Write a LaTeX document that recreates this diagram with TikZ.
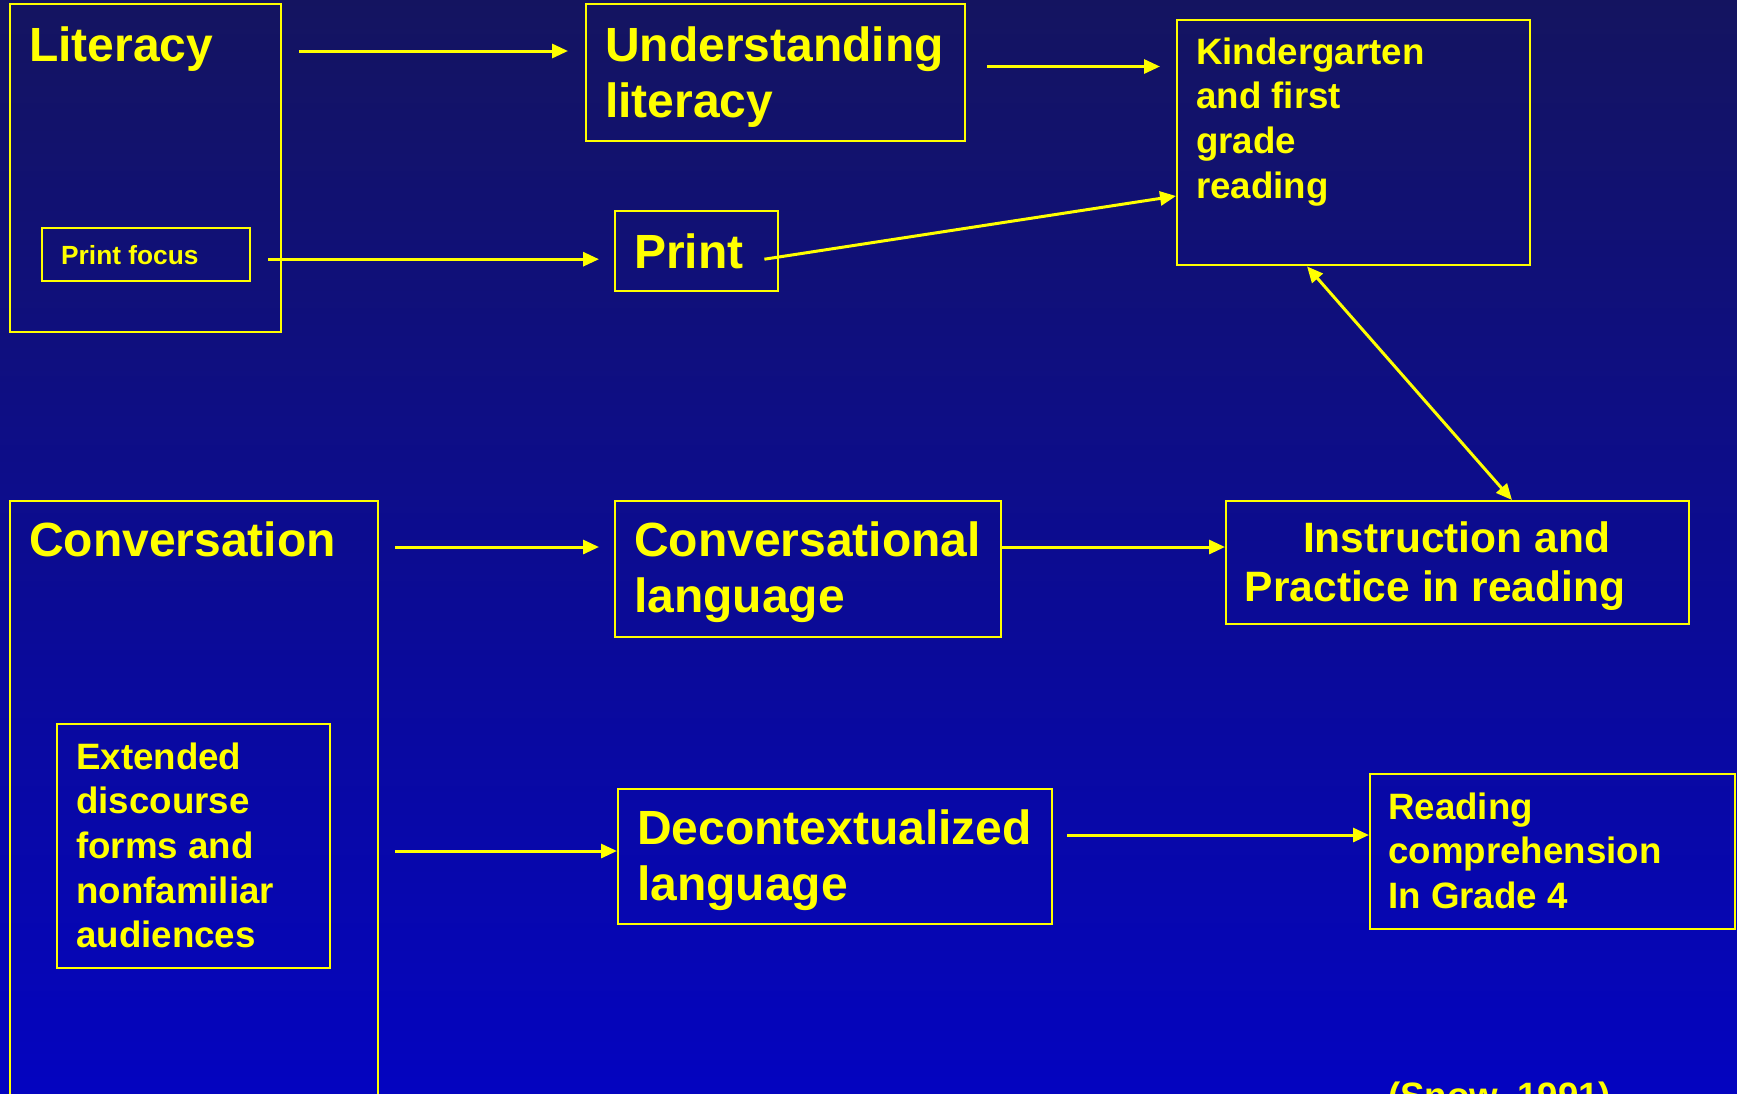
\documentclass[tikz,border=0pt]{standalone}
\usepackage{fontspec}
\setmainfont{Liberation Sans}
\usepackage{tikz}
\usetikzlibrary{arrows,arrows.meta,positioning}
\definecolor{hilite}{RGB}{255,255,0}
\definecolor{bgtop}{RGB}{20,20,96}
\definecolor{bgbottom}{RGB}{4,4,192}
\tikzstyle{frame} = [draw=hilite, line width=2.4pt, inner sep=0pt,
    anchor=north west]
\tikzstyle{bigtxt} = [text=hilite, inner sep=0pt, anchor=base west,
    align=left, font=\fontsize{48}{56}\selectfont\bfseries]
\tikzstyle{midtxt} = [text=hilite, inner sep=0pt, anchor=base west,
    align=left, font=\fontsize{36.7}{44.7}\selectfont\bfseries]
\tikzstyle{flow} = [draw=hilite, fill=hilite, line width=3pt,
    -{Triangle[length=16pt,width=14pt]}]

\begin{document}
\begin{tikzpicture}[x=1pt, y=-1pt]
  \useasboundingbox (0,0) rectangle (1737,1093);
  \clip (0,0) rectangle (1737,1093);
  \shade [top color=bgtop, bottom color=bgbottom] (0,0) rectangle (1737,1093);
  % Place nodes (text nodes sit on the baseline of their last line)
  \node [frame, minimum width=271pt, minimum height=328pt] (lit) at (9,3) {};
  \node [bigtxt] (littxt) at ([shift={(20,58)}]lit.north west) {Literacy};
  \node [frame, minimum width=208pt, minimum height=53pt] (pfoc) at (41,227) {};
  \node [text=hilite, inner sep=0pt, anchor=base west,
    font=\fontsize{26.3}{31}\selectfont\bfseries] (pfoctxt)
    at ([shift={(20,37)}]pfoc.north west) {Print focus};
  \node [frame, minimum width=379pt, minimum height=137pt] (und) at (585,3) {};
  \node [bigtxt] (undtxt) at ([shift={(20,114)}]und.north west)
    {Understanding\\literacy};
  \node [frame, minimum width=353pt, minimum height=245pt] (kin) at (1176,19) {};
  \node [midtxt] (kintxt) at ([shift={(20,179.1)}]kin.north west)
    {Kindergarten\\and first\\grade\\reading};
  \node [frame, minimum width=163pt, minimum height=80pt] (prt) at (614,210) {};
  \node [bigtxt] (prttxt) at ([shift={(20,58)}]prt.north west) {Print};
  \node [frame, minimum width=368pt, minimum height=620pt] (conv) at (9,500) {};
  \node [bigtxt] (convtxt) at ([shift={(20,56)}]conv.north west) {Conversation};
  \node [frame, minimum width=273pt, minimum height=244pt] (ext) at (56,723) {};
  \node [midtxt] (exttxt) at ([shift={(20,224.8)}]ext.north west)
    {Extended\\discourse\\forms and\\nonfamiliar\\audiences};
  \node [frame, minimum width=386pt, minimum height=136pt] (cl) at (614,500) {};
  \node [bigtxt] (cltxt) at ([shift={(20,112)}]cl.north west)
    {Conversational\\language};
  \node [frame, minimum width=463pt, minimum height=123pt] (ins) at (1225,500) {};
  \node [text=hilite, inner sep=0pt, anchor=base, align=center,
    font=\fontsize{42.5}{49.5}\selectfont\bfseries] (instxt)
    at ([shift={(231.5,101.5)}]ins.north west)
    {Instruction and\\Practice in reading\makebox[43pt]{}};
  \node [frame, minimum width=434pt, minimum height=135pt] (dec) at (617,788) {};
  \node [bigtxt] (dectxt) at ([shift={(20,112)}]dec.north west)
    {Decontextualized\\language};
  \node [frame, minimum width=365pt, minimum height=155pt] (rc) at (1369,773) {};
  \node [midtxt] (rctxt) at ([shift={(19,135.4)}]rc.north west)
    {Reading\\comprehension\\In Grade 4};
  \node [midtxt] (cite) at ([shift={(19,335)}]rc.north west) {(Snow, 1991)};
  % Connectors
  \draw [flow] ([shift={(17,48)}]lit.north east) -- ([shift={(-17,48)}]und.north west);
  \draw [flow] ([shift={(21,63.5)}]und.north east) -- ([shift={(-16,47.5)}]kin.north west);
  \draw [flow] ([shift={(17,4.5)}]pfoc.east) -- ([shift={(-15,8)}]prt.west);
  \draw [flow] ([shift={(-15,8)}]prt.east) -- ([shift={(0,177)}]kin.north west);
  \draw [flow, {Triangle[length=16pt,width=14pt]}-{Triangle[length=16pt,width=14pt]}]
    ([shift={(131,0)}]kin.south west) -- ([shift={(287,0)}]ins.north west);
  \draw [flow] ([shift={(16,47)}]conv.north east) -- ([shift={(-15,47)}]cl.north west);
  \draw [flow] ([shift={(0,47)}]cl.north east) -- ([shift={(0,47)}]ins.north west);
  \draw [flow] ([shift={(16,351)}]conv.north east) -- ([shift={(0,63)}]dec.north west);
  \draw [flow] ([shift={(14,47)}]dec.north east) -- ([shift={(0,62)}]rc.north west);
\end{tikzpicture}
\end{document}
